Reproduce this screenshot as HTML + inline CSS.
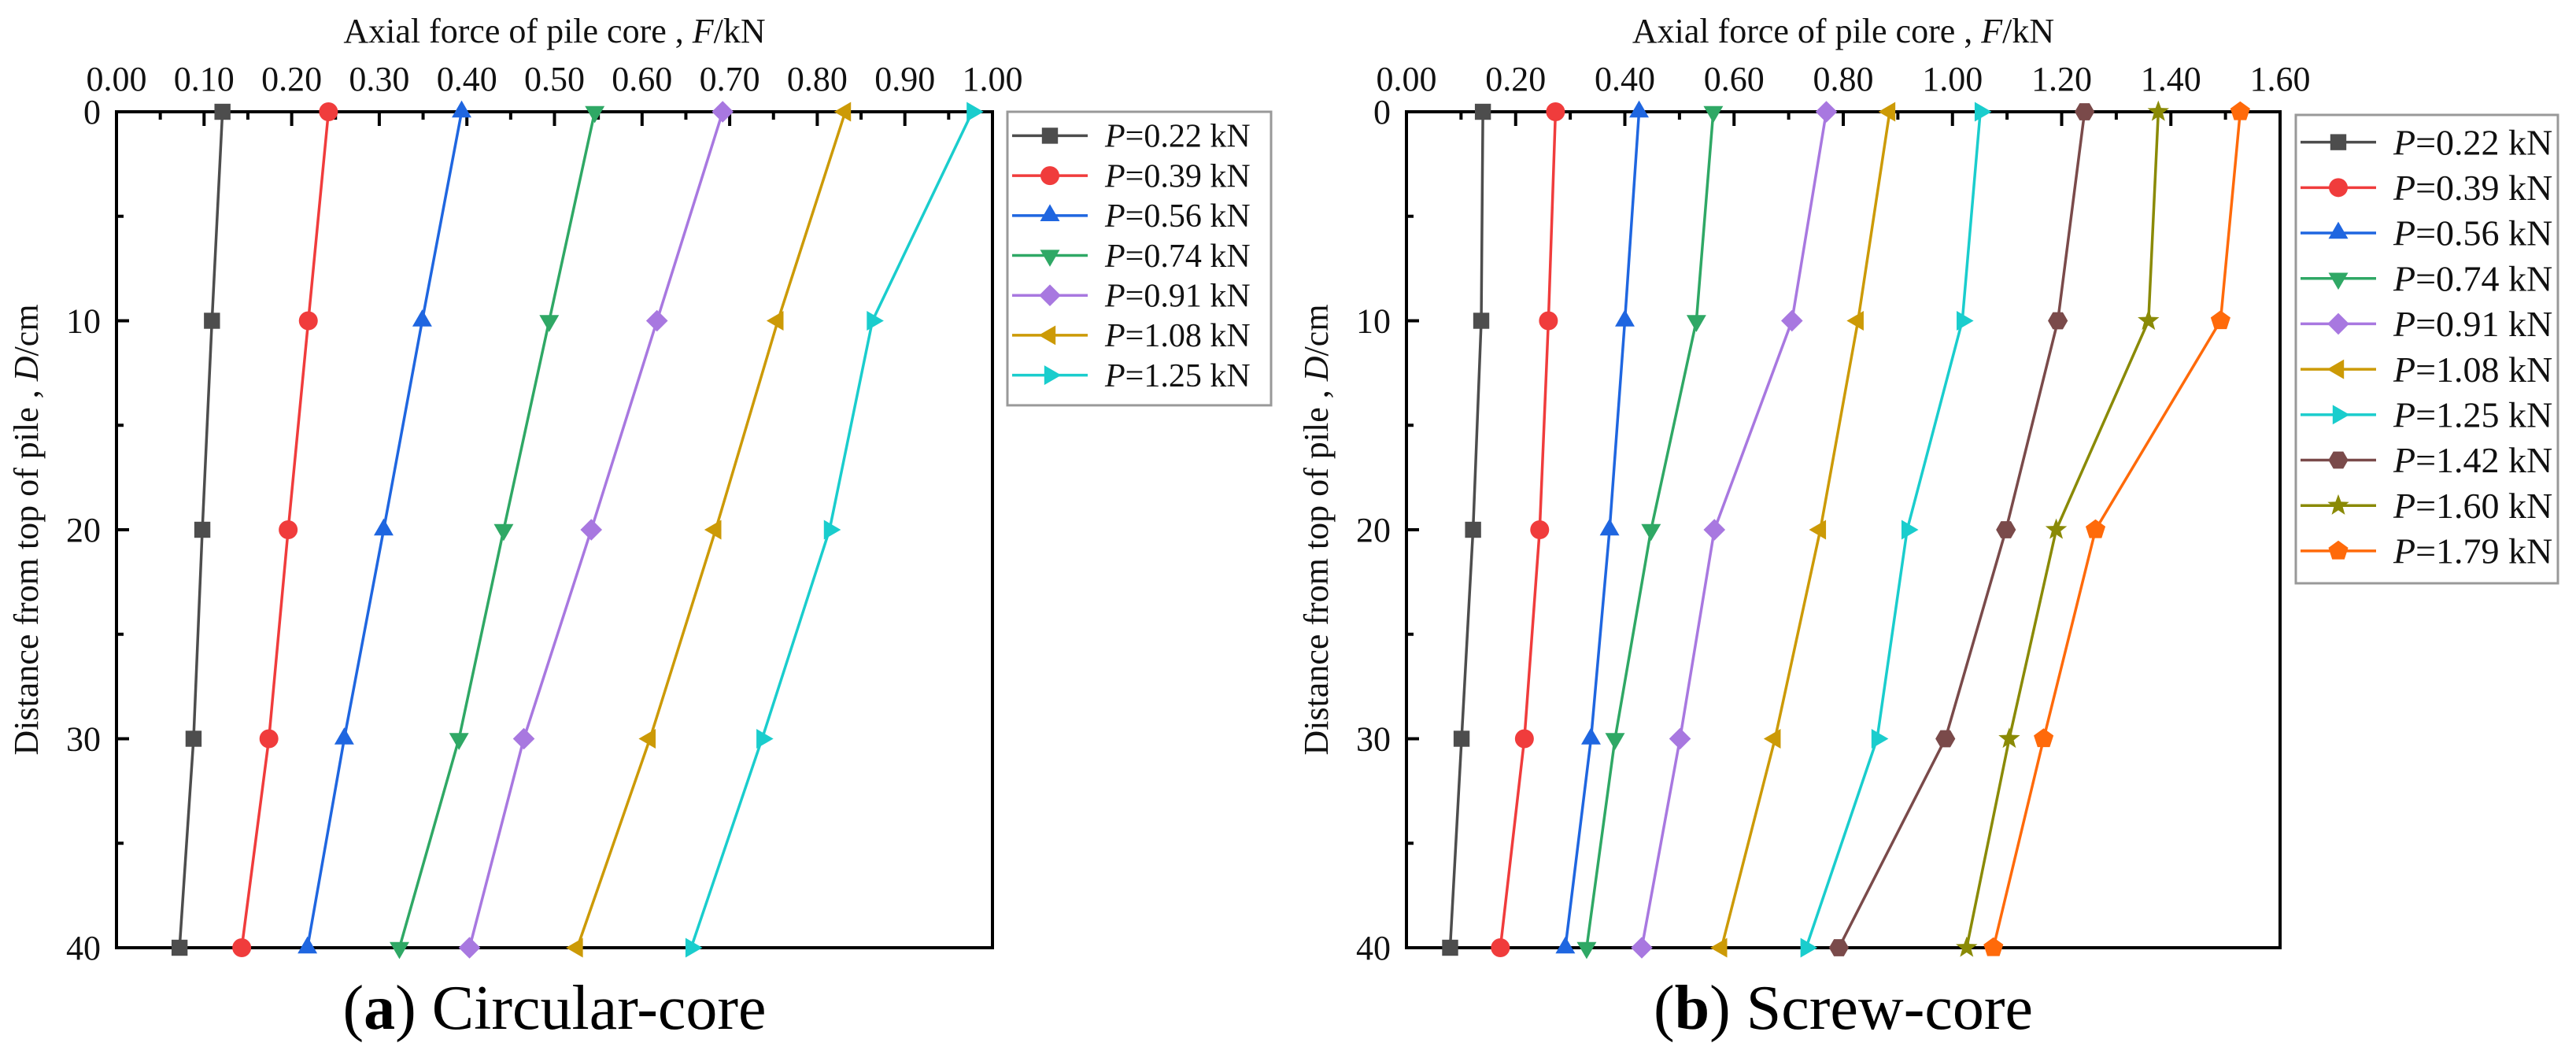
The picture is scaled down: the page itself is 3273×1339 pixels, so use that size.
<!DOCTYPE html>
<html><head><meta charset="utf-8"><style>
html,body{margin:0;padding:0;background:#fff;}
svg{display:block;font-family:"Liberation Serif",serif;}
</style></head><body>
<svg id="fig" width="3273" height="1339" viewBox="0 0 3273 1339" xmlns="http://www.w3.org/2000/svg"></svg>
<script>
const depths = [0, 10, 20, 30, 40];
const labelsA = ["P=0.22 kN","P=0.39 kN","P=0.56 kN","P=0.74 kN","P=0.91 kN","P=1.08 kN","P=1.25 kN"];
const loadsA = ["0.22","0.39","0.56","0.74","0.91","1.08","1.25"];
const seriesA_022 = [0.121,0.109,0.098,0.088,0.072];
const seriesA_039 = [0.242,0.219,0.196,0.174,0.143];
const seriesA_056 = [0.394,0.349,0.305,0.260,0.218];
const seriesA_074 = [0.546,0.494,0.442,0.391,0.323];
const seriesA_091 = [0.692,0.617,0.542,0.465,0.403];
const seriesA_108 = [0.832,0.755,0.684,0.609,0.526];
const seriesA_125 = [0.977,0.863,0.814,0.737,0.656];
const loadsB = ["0.22","0.39","0.56","0.74","0.91","1.08","1.25","1.42","1.60","1.79"];
const seriesB_022 = [0.140,0.137,0.122,0.101,0.080];
const seriesB_039 = [0.273,0.260,0.244,0.216,0.172];
const seriesB_056 = [0.426,0.400,0.372,0.338,0.291];
const seriesB_074 = [0.562,0.531,0.448,0.382,0.330];
const seriesB_091 = [0.769,0.706,0.564,0.501,0.431];
const seriesB_108 = [0.885,0.827,0.758,0.675,0.577];
const seriesB_125 = [1.051,1.018,0.917,0.862,0.732];
const seriesB_142 = [1.242,1.193,1.098,0.987,0.792];
const seriesB_160 = [1.377,1.359,1.190,1.104,1.026];
const seriesB_179 = [1.527,1.491,1.262,1.167,1.075];
const ticksA = ["0.00","0.10","0.20","0.30","0.40","0.50","0.60","0.70","0.80","0.90","1.00"];
const ticksB = ["0.00","0.20","0.40","0.60","0.80","1.00","1.20","1.40","1.60"];
const yTicks = ["0","10","20","30","40"];

const colors = ["#4d4d4d","#f03c3c","#1f66e0","#2fa865","#a878e0","#cc9a06","#1acdcd","#7a4a4a","#8a8a06","#ff6a0a"];
const shapes = ["square","circle","up","down","diamond","left","right","hexagon","star","pentagon"];
const NS = "http://www.w3.org/2000/svg";
const svg = document.getElementById("fig");
function mk(tag, attrs, parent){const e=document.createElementNS(NS,tag);for(const k in attrs)e.setAttribute(k,attrs[k]);(parent||svg).appendChild(e);return e;}

function marker(g, shape, cx, cy, r, color){
  let e;
  if(shape==="square"){e=mk("rect",{x:cx-r*0.85,y:cy-r*0.85,width:r*1.7,height:r*1.7,fill:color},g);}
  else if(shape==="circle"){e=mk("circle",{cx:cx,cy:cy,r:r,fill:color},g);}
  else{
    let pts=[];
    const poly=(n,rot,rr)=>{for(let i=0;i<n;i++){const a=rot+i*2*Math.PI/n;pts.push([cx+rr*Math.cos(a),cy+rr*Math.sin(a)]);}};
    if(shape==="up")poly(3,-Math.PI/2,r*1.2);
    else if(shape==="down")poly(3,Math.PI/2,r*1.2);
    else if(shape==="left")poly(3,Math.PI,r*1.2);
    else if(shape==="right")poly(3,0,r*1.2);
    else if(shape==="diamond")poly(4,-Math.PI/2,r*1.15);
    else if(shape==="hexagon")poly(6,0,r*1.05);
    else if(shape==="pentagon")poly(5,-Math.PI/2,r*1.1);
    else if(shape==="star"){for(let i=0;i<10;i++){const a=-Math.PI/2+i*Math.PI/5;const rr=i%2?r*0.5:r*1.2;pts.push([cx+rr*Math.cos(a),cy+rr*Math.sin(a)]);}}
    e=mk("polygon",{points:pts.map(p=>p.join(",")).join(" "),fill:color},g);
  }
  return e;
}

function chart(cfg){
  const {x0,x1,y0,y1,xmax,ticks,minor,series,loads,title,caption,capBold,leg,fs,legFs,legStep,ytitleX,id} = cfg;
  const sx=v=>x0+(v/xmax)*(x1-x0);
  const sy=d=>y0+(d/40)*(y1-y0);
  const g=mk("g",{});
  
  
  // axes frame
  const frame=mk("rect",{x:x0,y:y0,width:x1-x0,height:y1-y0,fill:"none",stroke:"#000","stroke-width":4},g);
  
  
  // x ticks (top)
  const xt=mk("g",{},g);
  
  
  const step=xmax/(ticks.length-1);
  for(let i=0;i<ticks.length;i++){
    const x=sx(i*step);
    mk("line",{x1:x,y1:y0,x2:x,y2:y0+18,stroke:"#000","stroke-width":4},xt);
    if(i<ticks.length-1){const xm=sx((i+0.5)*step);mk("line",{x1:xm,y1:y0,x2:xm,y2:y0+10,stroke:"#000","stroke-width":4},xt);}
    const t=mk("text",{x:x,y:y0-27,"font-size":fs,"text-anchor":"middle",fill:"#111"},xt);
    t.textContent=ticks[i];
    
    
  }
  const xtitle=mk("text",{x:(x0+x1)/2,y:y0-88,"font-size":fs,"text-anchor":"middle",fill:"#111"},g);
  xtitle.innerHTML='Axial force of pile core , <tspan font-style="italic">F</tspan>/kN';
  
  
  // y ticks (left)
  const yt=mk("g",{},g);
  
  
  for(let i=0;i<yTicks.length;i++){
    const d=Number(yTicks[i]);const y=sy(d);
    mk("line",{x1:x0,y1:y,x2:x0+16,y2:y,stroke:"#000","stroke-width":4},yt);
    if(i<yTicks.length-1){const ym=sy(d+5);mk("line",{x1:x0,y1:ym,x2:x0+9,y2:ym,stroke:"#000","stroke-width":4},yt);}
    const t=mk("text",{x:x0-20,y:y+15,"font-size":fs,"text-anchor":"end",fill:"#111"},yt);
    t.textContent=yTicks[i];
    
    
  }
  const ytitle=mk("text",{x:ytitleX,y:(y0+y1)/2,"font-size":fs,"text-anchor":"middle",fill:"#111",transform:`rotate(-90 ${ytitleX} ${(y0+y1)/2})`},g);
  ytitle.innerHTML='Distance from top of pile , <tspan font-style="italic">D</tspan>/cm';
  
  
  // series
  series.forEach((vals,k)=>{
    const sg=mk("g",{},g);
    
    
    const pts=vals.map((v,i)=>sx(v)+","+sy(depths[i])).join(" ");
    mk("polyline",{points:pts,fill:"none",stroke:colors[k],"stroke-width":3.5},sg);
    vals.forEach((v,i)=>{
      const m=marker(sg,shapes[k],sx(v),sy(depths[i]),12,colors[k]);
      
      
    });
  });
  // legend
  const lg=mk("g",{},g);
  
  
  const lh=legStep*loads.length+18;
  mk("rect",{x:leg.x,y:leg.y,width:leg.w,height:lh,fill:"#fff",stroke:"#999","stroke-width":3},lg);
  loads.forEach((p,k)=>{
    const ey=leg.y+legStep*0.6+k*legStep;
    const eg=mk("g",{},lg);
    
    
    mk("line",{x1:leg.x+6,y1:ey,x2:leg.x+102,y2:ey,stroke:colors[k],"stroke-width":3.5},eg);
    marker(eg,shapes[k],leg.x+54,ey,12,colors[k]);
    const t=mk("text",{x:leg.x+124,y:ey+legFs*0.34,"font-size":legFs,fill:"#111"},eg);
    t.innerHTML='<tspan font-style="italic">P</tspan>='+p+' kN';
  });
  // caption
  const cap=mk("text",{x:(x0+x1)/2,y:1307,"font-size":80,"text-anchor":"middle",fill:"#000"},g);
  cap.innerHTML='(<tspan font-weight="bold">'+capBold+'</tspan>) '+caption;
  
  
}

chart({id:"circular-core",x0:148,x1:1261,y0:142,y1:1204,xmax:1.0,ticks:ticksA,
  series:[seriesA_022,seriesA_039,seriesA_056,seriesA_074,seriesA_091,seriesA_108,seriesA_125],
  loads:loadsA,caption:"Circular-core",capBold:"a",leg:{x:1280,y:142,w:335},fs:44,legFs:42,legStep:50.7,ytitleX:48});
chart({id:"screw-core",x0:1787,x1:2897,y0:142,y1:1204,xmax:1.6,ticks:ticksB,
  series:[seriesB_022,seriesB_039,seriesB_056,seriesB_074,seriesB_091,seriesB_108,seriesB_125,seriesB_142,seriesB_160,seriesB_179],
  loads:loadsB,caption:"Screw-core",capBold:"b",leg:{x:2917,y:146,w:333},fs:44,legFs:46,legStep:57.7,ytitleX:1687});
</script>
</body></html>
